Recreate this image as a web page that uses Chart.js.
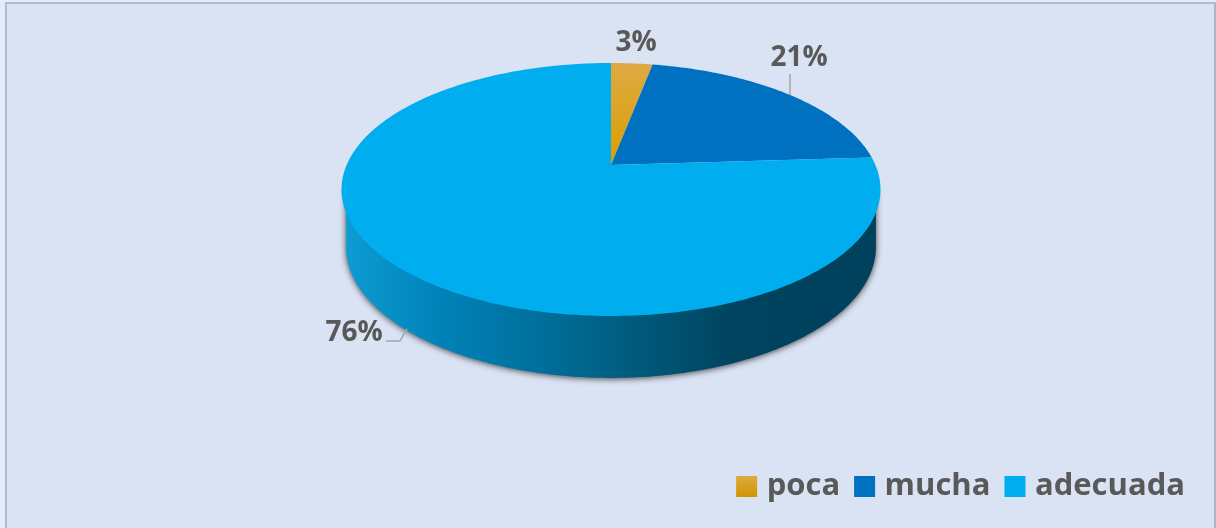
<!DOCTYPE html>
<html lang="en">
<head>
    <meta charset="UTF-8">
    <title>Pie chart</title>
    <script src="https://cdn.jsdelivr.net/npm/chart.js"></script>
    <style>
        html, body { margin: 0; padding: 0; background: #e6ecf7; }
        #frame {
            position: absolute;
            left: 5px; top: 2px; right: 0; bottom: 0;
            background: #dae3f3;
            border-left: 2px solid #b0bccf;
            border-top: 2px solid #b0bccf;
            border-right: 2px solid #a9b5cb;
        }
        canvas { position: absolute; left: 0; top: 0; }
    </style>
</head>
<body>
    <div id="frame"></div>
    <canvas id="chart" width="1216" height="528"></canvas>

    <script>
        const categories = ["poca", "mucha", "adecuada"];
        const values = [3, 21, 76];
        const colors = ["#d99f00", "#0070c0", "#00aeef"];

        // top face: circle seen in perspective, with the apex above the ellipse centre
        const apexX = 611, apexY = 165;
        const scaleX = 264.4, scaleY = 121.75, tilt = 0.1937;

        function face(a) {
            const u = Math.cos(a), v = Math.sin(a), w = 1 - tilt * v;
            return [apexX + scaleX * u / w, apexY + scaleY * v / w];
        }
        // lower rim of the side wall
        function rim(a) {
            const p = face(a);
            return [apexX + (p[0] - apexX) * 0.983, 189.5 + (p[1] - 189.5) * 1.035 + 57.5];
        }

        const labelSpots = [
            { x: 636, y: 43 },
            { x: 799, y: 58 },
            { x: 354, y: 333 }
        ];

        const pie3d = {
            id: "pie3d",
            beforeDatasetDraw(chart, args) {
                const ctx = chart.ctx;
                const arcs = chart.getDatasetMeta(args.index).data;
                const steps = 240;

                // side wall: front of the lower rim, closed upward behind the top face
                ctx.save();
                const wall = ctx.createLinearGradient(346, 0, 881, 0);
                wall.addColorStop(0, "#0e9cd3");
                wall.addColorStop(0.18, "#0082b8");
                wall.addColorStop(0.4, "#006b95");
                wall.addColorStop(0.55, "#00597a");
                wall.addColorStop(0.72, "#00445f");
                wall.addColorStop(1, "#00415e");
                const first = Math.asin(tilt), last = Math.PI - first;
                ctx.beginPath();
                ctx.moveTo(rim(first)[0], 190);
                for (let i = 0; i <= steps; i++) {
                    const p = rim(first + (last - first) * i / steps);
                    ctx.lineTo(p[0], p[1]);
                }
                ctx.lineTo(rim(last)[0], 190);
                ctx.closePath();
                ctx.shadowColor = "rgba(30,30,30,0.8)";
                ctx.shadowBlur = 6;
                ctx.shadowOffsetY = 1;
                ctx.fillStyle = wall;
                ctx.fill();
                ctx.restore();

                // top face, from the angles the library worked out
                arcs.forEach((arc, i) => {
                    const n = Math.max(8, Math.ceil((arc.endAngle - arc.startAngle) * 60));
                    ctx.beginPath();
                    ctx.moveTo(apexX, apexY);
                    for (let k = 0; k <= n; k++) {
                        const p = face(arc.startAngle + (arc.endAngle - arc.startAngle) * k / n);
                        ctx.lineTo(p[0], p[1]);
                    }
                    ctx.closePath();
                    if (i === 0) {
                        const g = ctx.createLinearGradient(0, 63, 0, 165);
                        g.addColorStop(0, "#dfaa44");
                        g.addColorStop(1, colors[0]);
                        ctx.fillStyle = g;
                    } else {
                        ctx.fillStyle = colors[i];
                    }
                    ctx.fill();
                });

                // leader lines
                ctx.strokeStyle = "#a6a6a6";
                ctx.lineWidth = 1.5;
                ctx.beginPath();
                ctx.moveTo(790, 74);
                ctx.lineTo(790, 95);
                ctx.moveTo(386, 341);
                ctx.lineTo(400, 341);
                ctx.lineTo(407, 329);
                ctx.stroke();

                // percentage labels
                ctx.fillStyle = "#595959";
                ctx.font = "bold 28px 'Open Sans'";
                ctx.textAlign = "center";
                ctx.textBaseline = "middle";
                values.forEach((v, i) => ctx.fillText(v + "%", labelSpots[i].x, labelSpots[i].y));
                return false;
            }
        };

        // thick stroke around a small box keeps the text as close to the swatch as in the original
        function legendItems(chart) {
            const items = Chart.overrides.pie.plugins.legend.labels.generateLabels(chart);
            items.forEach((item, i) => {
                let paint = colors[i];
                if (i === 0) {
                    paint = chart.ctx.createLinearGradient(0, 475, 0, 497);
                    paint.addColorStop(0, "#dfaa44");
                    paint.addColorStop(1, "#d09600");
                }
                item.fillStyle = paint;
                item.strokeStyle = paint;
                item.lineWidth = 12;
            });
            return items;
        }

        new Chart(document.getElementById("chart"), {
            type: "pie",
            data: {
                labels: categories,
                datasets: [{ data: values, backgroundColor: colors, borderWidth: 0 }]
            },
            options: {
                responsive: false,
                animation: false,
                layout: { padding: { right: 11, bottom: 16 } },
                plugins: {
                    tooltip: { enabled: false },
                    legend: {
                        position: "bottom",
                        align: "end",
                        labels: {
                            boxWidth: 9,
                            boxHeight: 9,
                            padding: 20,
                            color: "#595959",
                            font: { family: "'Open Sans'", size: 31, weight: "bold" },
                            generateLabels: legendItems
                        }
                    }
                }
            },
            plugins: [pie3d]
        });
    </script>
</body>
</html>
